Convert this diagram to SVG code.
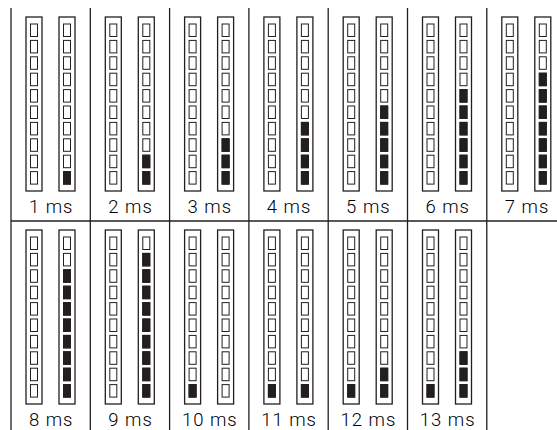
<svg xmlns="http://www.w3.org/2000/svg" xmlns:xlink="http://www.w3.org/1999/xlink" width="557" height="430" viewBox="0 0 557 430">
<style>
.frame{fill:#fff;stroke:#231f20;stroke-width:1.3}
.sq{fill:#fff;stroke:#231f20;stroke-width:1}
.on{fill:#231f20;stroke:#231f20;stroke-width:1}
.grid line{stroke:#231f20;stroke-width:1.3}
.lbl{font-family:Roboto,"Liberation Sans",Arial,sans-serif;font-weight:300;font-size:18.5px;fill:#000;text-anchor:middle;letter-spacing:1px}
</style>
<defs>
<g id="bar">
<rect class="frame" x="0" y="0" width="16" height="174"/>
<rect class="sq" x="4.5" y="7" width="7" height="12.5"/>
<rect class="sq" x="4.5" y="23.4" width="7" height="12.5"/>
<rect class="sq" x="4.5" y="39.8" width="7" height="12.5"/>
<rect class="sq" x="4.5" y="56.2" width="7" height="12.5"/>
<rect class="sq" x="4.5" y="72.6" width="7" height="12.5"/>
<rect class="sq" x="4.5" y="89" width="7" height="12.5"/>
<rect class="sq" x="4.5" y="105.4" width="7" height="12.5"/>
<rect class="sq" x="4.5" y="121.8" width="7" height="12.5"/>
<rect class="sq" x="4.5" y="138.2" width="7" height="12.5"/>
<rect class="sq" x="4.5" y="154.6" width="7" height="12.5"/>
</g>
<rect id="on" class="on" x="0" y="0" width="7" height="12.5"/>
</defs>
<g class="grid" id="connectors">
<line x1="11" y1="8" x2="11" y2="430"/>
<line x1="90.3" y1="8" x2="90.3" y2="430"/>
<line x1="169.6" y1="8" x2="169.6" y2="430"/>
<line x1="248.9" y1="8" x2="248.9" y2="430"/>
<line x1="328.2" y1="8" x2="328.2" y2="430"/>
<line x1="407.5" y1="8" x2="407.5" y2="430"/>
<line x1="486.8" y1="8" x2="486.8" y2="430"/>
<line x1="11" y1="221" x2="557" y2="221"/>
</g>
<g id="cell-1ms">
<use href="#bar" x="26" y="17"/><use href="#bar" x="59" y="17"/>
<use href="#on" x="63.5" y="171.6"/>
<text class="lbl" x="51.2" y="213">1 ms</text>
</g>
<g id="cell-2ms">
<use href="#bar" x="105.3" y="17"/><use href="#bar" x="138.3" y="17"/>
<use href="#on" x="142.8" y="171.6"/><use href="#on" x="142.8" y="155.2"/>
<text class="lbl" x="130.5" y="213">2 ms</text>
</g>
<g id="cell-3ms">
<use href="#bar" x="184.6" y="17"/><use href="#bar" x="217.6" y="17"/>
<use href="#on" x="222.1" y="171.6"/><use href="#on" x="222.1" y="155.2"/><use href="#on" x="222.1" y="138.8"/>
<text class="lbl" x="209.8" y="213">3 ms</text>
</g>
<g id="cell-4ms">
<use href="#bar" x="263.9" y="17"/><use href="#bar" x="296.9" y="17"/>
<use href="#on" x="301.4" y="171.6"/><use href="#on" x="301.4" y="155.2"/><use href="#on" x="301.4" y="138.8"/><use href="#on" x="301.4" y="122.4"/>
<text class="lbl" x="289.1" y="213">4 ms</text>
</g>
<g id="cell-5ms">
<use href="#bar" x="343.2" y="17"/><use href="#bar" x="376.2" y="17"/>
<use href="#on" x="380.7" y="171.6"/><use href="#on" x="380.7" y="155.2"/><use href="#on" x="380.7" y="138.8"/><use href="#on" x="380.7" y="122.4"/><use href="#on" x="380.7" y="106"/>
<text class="lbl" x="368.4" y="213">5 ms</text>
</g>
<g id="cell-6ms">
<use href="#bar" x="422.5" y="17"/><use href="#bar" x="455.5" y="17"/>
<use href="#on" x="460" y="171.6"/><use href="#on" x="460" y="155.2"/><use href="#on" x="460" y="138.8"/><use href="#on" x="460" y="122.4"/><use href="#on" x="460" y="106"/><use href="#on" x="460" y="89.6"/>
<text class="lbl" x="447.7" y="213">6 ms</text>
</g>
<g id="cell-7ms">
<use href="#bar" x="501.8" y="17"/><use href="#bar" x="534.8" y="17"/>
<use href="#on" x="539.3" y="171.6"/><use href="#on" x="539.3" y="155.2"/><use href="#on" x="539.3" y="138.8"/><use href="#on" x="539.3" y="122.4"/><use href="#on" x="539.3" y="106"/><use href="#on" x="539.3" y="89.6"/><use href="#on" x="539.3" y="73.2"/>
<text class="lbl" x="527" y="213">7 ms</text>
</g>
<g id="cell-8ms">
<use href="#bar" x="26" y="230"/><use href="#bar" x="59" y="230"/>
<use href="#on" x="63.5" y="384.6"/><use href="#on" x="63.5" y="368.2"/><use href="#on" x="63.5" y="351.8"/><use href="#on" x="63.5" y="335.4"/><use href="#on" x="63.5" y="319"/><use href="#on" x="63.5" y="302.6"/><use href="#on" x="63.5" y="286.2"/><use href="#on" x="63.5" y="269.8"/>
<text class="lbl" x="51.2" y="425.5">8 ms</text>
</g>
<g id="cell-9ms">
<use href="#bar" x="105.3" y="230"/><use href="#bar" x="138.3" y="230"/>
<use href="#on" x="142.8" y="384.6"/><use href="#on" x="142.8" y="368.2"/><use href="#on" x="142.8" y="351.8"/><use href="#on" x="142.8" y="335.4"/><use href="#on" x="142.8" y="319"/><use href="#on" x="142.8" y="302.6"/><use href="#on" x="142.8" y="286.2"/><use href="#on" x="142.8" y="269.8"/><use href="#on" x="142.8" y="253.4"/>
<text class="lbl" x="130.5" y="425.5">9 ms</text>
</g>
<g id="cell-10ms">
<use href="#bar" x="184.6" y="230"/><use href="#bar" x="217.6" y="230"/>
<use href="#on" x="189.1" y="384.6"/>
<text class="lbl" x="209.8" y="425.5">10 ms</text>
</g>
<g id="cell-11ms">
<use href="#bar" x="263.9" y="230"/><use href="#bar" x="296.9" y="230"/>
<use href="#on" x="268.4" y="384.6"/><use href="#on" x="301.4" y="384.6"/>
<text class="lbl" x="289.1" y="425.5">11 ms</text>
</g>
<g id="cell-12ms">
<use href="#bar" x="343.2" y="230"/><use href="#bar" x="376.2" y="230"/>
<use href="#on" x="347.7" y="384.6"/><use href="#on" x="380.7" y="384.6"/><use href="#on" x="380.7" y="368.2"/>
<text class="lbl" x="368.4" y="425.5">12 ms</text>
</g>
<g id="cell-13ms">
<use href="#bar" x="422.5" y="230"/><use href="#bar" x="455.5" y="230"/>
<use href="#on" x="427" y="384.6"/><use href="#on" x="460" y="384.6"/><use href="#on" x="460" y="368.2"/><use href="#on" x="460" y="351.8"/>
<text class="lbl" x="447.7" y="425.5">13 ms</text>
</g>
</svg>
